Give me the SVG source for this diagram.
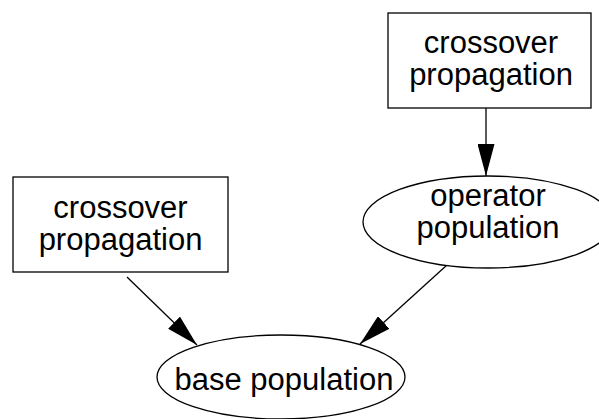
<svg xmlns="http://www.w3.org/2000/svg" width="599" height="419" viewBox="0 0 599 419">
<style>
.n{fill:#fff;stroke:#000;stroke-width:1.3}
.t{font-family:"Liberation Sans",Arial,sans-serif;font-size:31px;text-anchor:middle;fill:#000}
.e{stroke:#000;stroke-width:1.3;fill:none}
</style>
<defs>
<marker id="ah" viewBox="0 0 32 17" refX="32" refY="8.5" markerWidth="32" markerHeight="17" markerUnits="userSpaceOnUse" orient="auto">
<path d="M0,0 L32,8.5 L0,17 Z" fill="#000"/>
</marker>
</defs>
<rect width="599" height="419" fill="#fff"/>
<g id="edges">
<line class="e" x1="486" y1="108" x2="486" y2="176" marker-end="url(#ah)"/>
<line class="e" x1="127" y1="277" x2="197" y2="345" marker-end="url(#ah)"/>
<line class="e" x1="447" y1="265" x2="360" y2="344" marker-end="url(#ah)"/>
</g>
<g id="crossover2">
<rect class="n" x="388" y="13" width="203" height="95"/>
<text class="t" x="491" y="53">crossover</text>
<text class="t" x="491" y="85">propagation</text>
</g>
<g id="operator">
<ellipse class="n" cx="488" cy="222" rx="125" ry="46"/>
<text class="t" x="488" y="206">operator</text>
<text class="t" x="488" y="238">population</text>
</g>
<g id="crossover1">
<rect class="n" x="13" y="177" width="215" height="95"/>
<text class="t" x="120.5" y="218">crossover</text>
<text class="t" x="120.5" y="250">propagation</text>
</g>
<g id="base">
<ellipse class="n" cx="281" cy="377" rx="124" ry="42"/>
<text class="t" x="284" y="390">base population</text>
</g>
</svg>
